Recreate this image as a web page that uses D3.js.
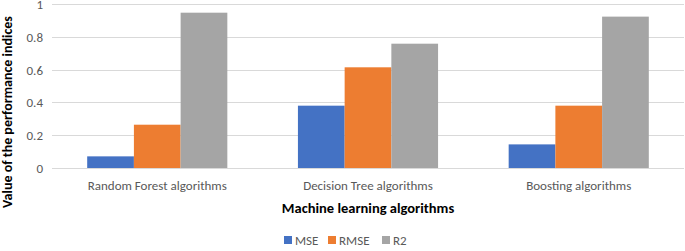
<!DOCTYPE html>
<html>
<head>
<meta charset="utf-8">
<script src="https://cdn.jsdelivr.net/npm/d3@7"></script>
<style>
  body { margin: 0; background: #fff; }
  text { font-family: Carlito, "Liberation Sans", "Noto Sans", sans-serif; }
</style>
</head>
<body>
<div id="chart"></div>
<script>
const categories = ['Random Forest algorithms', 'Decision Tree algorithms', 'Boosting algorithms'];
const seriesNames = ['MSE', 'RMSE', 'R2'];
const mseValues = [0.071, 0.38, 0.144];
const rmseValues = [0.264, 0.614, 0.38];
const r2Values = [0.947, 0.758, 0.923];
const yTicks = [0, 0.2, 0.4, 0.6, 0.8, 1];
const yTickLabels = ['0', '0.2', '0.4', '0.6', '0.8', '1'];

const width = 685, height = 251;
const margin = { top: 4, right: 1, bottom: 83, left: 52 };

const svg = d3.select('#chart').append('svg')
    .attr('width', width)
    .attr('height', height);

const x = d3.scaleBand()
    .domain(categories)
    .range([margin.left, width - margin.right])
    .paddingInner(0.335)
    .paddingOuter(0.167);

const x1 = d3.scaleBand()
    .domain(seriesNames)
    .range([0, x.bandwidth()]);

const y = d3.scaleLinear()
    .domain([0, 1])
    .range([height - margin.bottom, margin.top]);

const color = d3.scaleOrdinal()
    .domain(seriesNames)
    .range(['#4472C4', '#ED7D31', '#A5A5A5']);

// gridlines
svg.append('g')
    .selectAll('line')
    .data(yTicks)
    .enter().append('line')
    .attr('x1', margin.left)
    .attr('x2', width - margin.right)
    .attr('y1', d => Math.round(y(d)) + 0.5)
    .attr('y2', d => Math.round(y(d)) + 0.5)
    .attr('stroke', '#d9d9d9')
    .attr('stroke-width', 1);

// y tick labels
svg.append('g')
    .selectAll('text')
    .data(yTicks)
    .enter().append('text')
    .attr('x', 43)
    .attr('y', d => y(d) + 5)
    .attr('text-anchor', 'end')
    .attr('font-size', 13)
    .attr('fill', '#595959')
    .text((d, i) => yTickLabels[i]);

const rows = categories.map((c, i) => ({
    category: c,
    values: [
        { key: 'MSE', value: mseValues[i] },
        { key: 'RMSE', value: rmseValues[i] },
        { key: 'R2', value: r2Values[i] }
    ]
}));

const groups = svg.append('g')
    .selectAll('g')
    .data(rows)
    .enter().append('g')
    .attr('transform', d => `translate(${x(d.category)},0)`);

groups.selectAll('rect')
    .data(d => d.values)
    .enter().append('rect')
    .attr('x', d => x1(d.key))
    .attr('width', x1.bandwidth())
    .attr('y', d => y(d.value))
    .attr('height', d => y(0) - y(d.value))
    .attr('fill', d => color(d.key));

// category labels
svg.append('g')
    .selectAll('text')
    .data(categories)
    .enter().append('text')
    .attr('x', d => x(d) + x.bandwidth() / 2)
    .attr('y', 190)
    .attr('text-anchor', 'middle')
    .attr('font-size', 13)
    .attr('fill', '#595959')
    .text(d => d);

// axis titles
svg.append('text')
    .attr('x', 368)
    .attr('y', 213)
    .attr('text-anchor', 'middle')
    .attr('font-size', 14.5)
    .attr('font-weight', 'bold')
    .attr('fill', '#000')
    .text('Machine learning algorithms');

svg.append('text')
    .attr('transform', 'translate(12,112) rotate(-90)')
    .attr('text-anchor', 'middle')
    .attr('font-size', 14)
    .attr('font-weight', 'bold')
    .attr('fill', '#000')
    .text('Value of the performance indices');

// legend
const legend = svg.append('g')
    .attr('transform', 'translate(284,236)');

const legendItems = legend.selectAll('g')
    .data(seriesNames)
    .enter().append('g')
    .attr('transform', (d, i) => `translate(${[0, 44, 98][i]},0)`);

legendItems.append('rect')
    .attr('width', 8)
    .attr('height', 8)
    .attr('fill', d => color(d));

legendItems.append('text')
    .attr('x', 11)
    .attr('y', 8.5)
    .attr('font-size', 13)
    .attr('fill', '#595959')
    .text(d => d);
</script>
</body>
</html>
